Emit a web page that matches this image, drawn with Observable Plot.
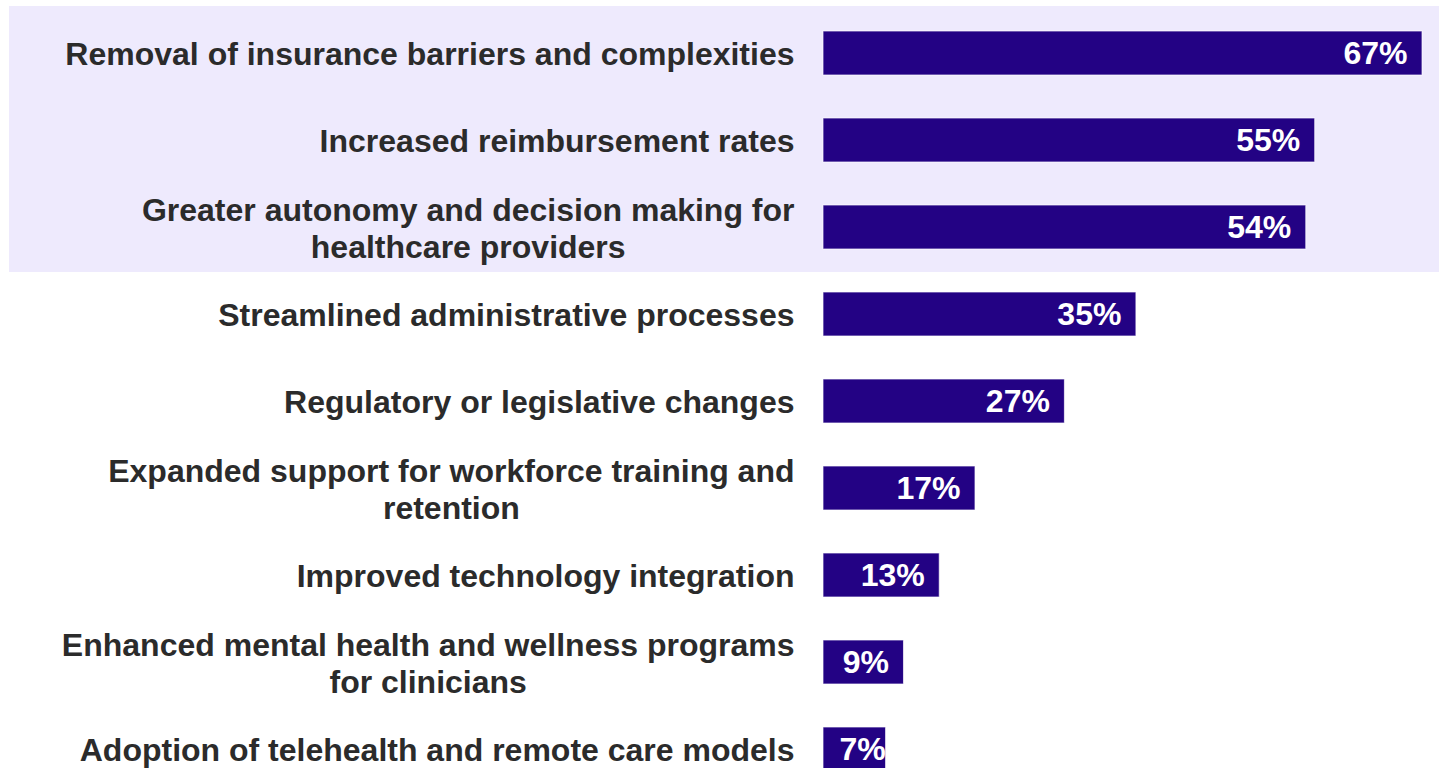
<!DOCTYPE html>
<html>
<head>
<meta charset="utf-8">
<script src="https://cdn.jsdelivr.net/npm/d3@7"></script>
<script src="https://cdn.jsdelivr.net/npm/@observablehq/plot@0.6"></script>
<style>
  html, body { margin: 0; padding: 0; background: #ffffff; overflow: hidden; }
  #chart svg { display: block; }
</style>
</head>
<body>
<div id="chart"></div>
<script>
const categories = [
  "Removal of insurance barriers and complexities",
  "Increased reimbursement rates",
  "Greater autonomy and decision making for\nhealthcare providers",
  "Streamlined administrative processes",
  "Regulatory or legislative changes",
  "Expanded support for workforce training and\nretention",
  "Improved technology integration",
  "Enhanced mental health and wellness programs\nfor clinicians",
  "Adoption of telehealth and remote care models"
];
const values = [67, 55, 54, 35, 27, 17, 13, 9, 7];
const highlighted = categories.slice(0, 3);

const data = categories.map((c, i) => ({category: c, value: values[i]}));

const FONT = "'Liberation Sans', Arial, sans-serif";
const ctx = document.createElement("canvas").getContext("2d");
ctx.font = "bold 32px 'Liberation Sans'";
const firstLineWidth = c => ctx.measureText(c.split("\n")[0]).width;

const labelMarks = data.map(d => Plot.text([d], {
  x: () => 0,
  y: "category",
  text: "category",
  textAnchor: "middle",
  lineAnchor: "middle",
  lineHeight: 1.16,
  dx: -29 - firstLineWidth(d.category) / 2,
  fill: "#2b2b2b",
  fontSize: 32,
  fontWeight: "bold",
  fontFamily: FONT
}));

const bigOnes = data.filter(d => d.value >= 8);
const smallOnes = data.filter(d => d.value < 8);

const chart = Plot.plot({
  width: 1439,
  height: 768,
  marginLeft: 9,
  marginRight: 0,
  marginTop: 0,
  marginBottom: 0,
  style: {fontFamily: FONT, background: "transparent"},
  x: {domain: [0, 67], range: [823, 1422], axis: null},
  y: {domain: categories, range: [-14.5, 815], padding: 0.5, axis: null},
  marks: [
    Plot.cell(highlighted, {y: d => d, fill: "#EEEAFD", insetTop: -25, insetBottom: -23}),
    Plot.barX(data, {x: "value", y: "category", fill: "#230284", stroke: "#ffffff", strokeWidth: 1, strokeOpacity: 0.7}),
    Plot.text(bigOnes, {
      x: "value", y: "category", text: d => d.value + "%",
      textAnchor: "end", dx: -15, fill: "#ffffff",
      fontSize: 32, fontWeight: "bold", fontFamily: FONT
    }),
    Plot.text(smallOnes, {
      x: () => 0, y: "category", text: d => d.value + "%",
      textAnchor: "start", dx: 16, fill: "#ffffff",
      fontSize: 32, fontWeight: "bold", fontFamily: FONT
    }),
    ...labelMarks
  ]
});
document.getElementById("chart").append(chart);
</script>
</body>
</html>
